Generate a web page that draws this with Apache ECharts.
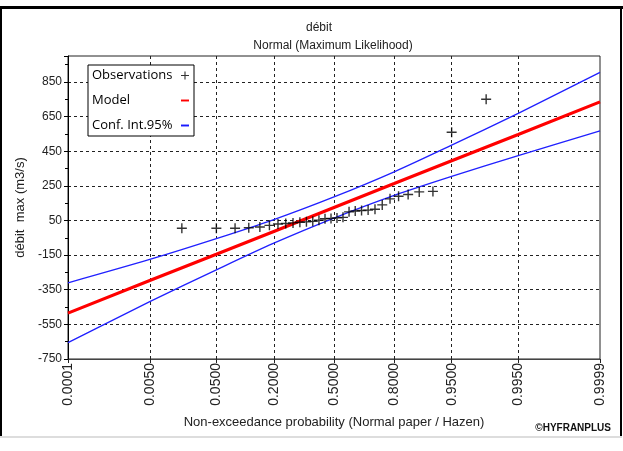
<!DOCTYPE html>
<html>
<head>
<meta charset="utf-8">
<script src="https://cdn.jsdelivr.net/npm/echarts@6/dist/echarts.min.js"></script>
<style>
  html, body { margin: 0; padding: 0; background: #fff; }
  #chart { width: 623px; height: 451px; }
</style>
</head>
<body>
<div id="chart"></div>
<script>
// tick labels of the probability axis (normal paper)
const probTicks = ['0.0001', '0.0050', '0.0500', '0.2000', '0.5000', '0.8000', '0.9500', '0.9950', '0.9999'];

// observations, Hazen plotting positions
const obsProb = [0.0167, 0.0500, 0.0833, 0.1167, 0.1500, 0.1833, 0.2167, 0.2500, 0.2833, 0.3167,
                 0.3500, 0.3833, 0.4167, 0.4500, 0.4833, 0.5167, 0.5500, 0.5833, 0.6167, 0.6500,
                 0.6833, 0.7167, 0.7500, 0.7833, 0.8167, 0.8500, 0.8833, 0.9167, 0.9500, 0.9833];
const obsValues = [5, 5, 5, 8, 12, 22, 30, 33, 36, 40,
                   42, 45, 52, 60, 62, 65, 68, 100, 105, 108,
                   110, 115, 140, 175, 190, 200, 215, 218, 560, 750];

// model and 95% confidence interval, read at the tick probabilities
const curveProb = [0.0001, 0.005, 0.05, 0.2, 0.5, 0.8, 0.95, 0.995, 0.9999];
const modelValues = [-485, -297, -145, -13, 125, 263, 395, 547, 735];
const ciUpper = [-310, -175, -55, 55, 186, 331, 485, 669, 905];
const ciLower = [-655, -419, -235, -81, 64, 195, 305, 425, 568];

// inverse of the standard normal cdf (Acklam)
function normInv(p) {
  const a = [-39.69683028665376, 220.9460984245205, -275.9285104469687, 138.3577518672690, -30.66479806614716, 2.506628277459239];
  const b = [-54.47609879822406, 161.5858368580409, -155.6989798598866, 66.80131188771972, -13.28068155288572];
  const c = [-0.007784894002430293, -0.3223964580411365, -2.400758277161838, -2.549732539343734, 4.374664141464968, 2.938163982698783];
  const d = [0.007784695709041462, 0.3224671290700398, 2.445134137142996, 3.754408661907416];
  const pl = 0.02425;
  let q, r;
  if (p < pl) {
    q = Math.sqrt(-2 * Math.log(p));
    return (((((c[0]*q+c[1])*q+c[2])*q+c[3])*q+c[4])*q+c[5]) / ((((d[0]*q+d[1])*q+d[2])*q+d[3])*q+1);
  }
  if (p <= 1 - pl) {
    q = p - 0.5; r = q * q;
    return (((((a[0]*r+a[1])*r+a[2])*r+a[3])*r+a[4])*r+a[5])*q / (((((b[0]*r+b[1])*r+b[2])*r+b[3])*r+b[4])*r+1);
  }
  q = Math.sqrt(-2 * Math.log(1 - p));
  return -(((((c[0]*q+c[1])*q+c[2])*q+c[3])*q+c[4])*q+c[5]) / ((((d[0]*q+d[1])*q+d[2])*q+d[3])*q+1);
}

const zTicks = probTicks.map(s => normInv(parseFloat(s)));
function tickLabel(v) {
  let best = 0;
  zTicks.forEach((z, i) => { if (Math.abs(z - v) < Math.abs(zTicks[best] - v)) best = i; });
  return probTicks[best];
}

const obsData = obsProb.map((p, i) => [normInv(p), obsValues[i]]);
const modelData = curveProb.map((p, i) => [normInv(p), modelValues[i]]);
const upperData = curveProb.map((p, i) => [normInv(p), ciUpper[i]]);
const lowerData = curveProb.map((p, i) => [normInv(p), ciLower[i]]);

const plusIcon = 'path://M4.3,0h1.4v10h-1.4zM0,4.3h10v1.4h-10z';
const dashIcon = 'path://M0,0h10v2.4h-10z';

const chart = echarts.init(document.getElementById('chart'), null, { renderer: 'canvas' });
chart.setOption({
  animation: false,
  backgroundColor: '#fff',
  title: [
    { text: 'débit', left: 314, top: 17, textAlign: 'center',
      textStyle: { fontFamily: 'Liberation Sans', fontSize: 12, fontWeight: 'normal', color: '#222' } },
    { text: 'Normal (Maximum Likelihood)', left: 328, top: 35, textAlign: 'center',
      textStyle: { fontFamily: 'Liberation Sans', fontSize: 12, fontWeight: 'normal', color: '#222' } }
  ],
  legend: {
    orient: 'vertical',
    left: 88, top: 65,
    align: 'right',
    backgroundColor: '#fff',
    borderColor: '#000', borderWidth: 1, borderRadius: 0,
    padding: [4, 5, 4, 4],
    itemGap: 12,
    itemWidth: 8, itemHeight: 8,
    formatter: name => '{t|' + name + '}',
    textStyle: {
      fontFamily: 'Open Sans', fontSize: 13, color: '#000',
      rich: { t: { width: 84, align: 'left', fontFamily: 'Open Sans', fontSize: 13, lineHeight: 15, color: '#000' } }
    },
    data: [
      { name: 'Observations', icon: plusIcon },
      { name: 'Model', icon: dashIcon },
      { name: 'Conf. Int.95%', icon: dashIcon }
    ]
  },
  grid: { left: 68, right: 23, top: 56, bottom: 92, show: true, borderColor: '#222', borderWidth: 1 },
  xAxis: {
    type: 'value',
    min: zTicks[0], max: zTicks[zTicks.length - 1],
    name: 'Non-exceedance probability (Normal paper / Hazen)',
    nameLocation: 'middle', nameGap: 57,
    nameTextStyle: { fontFamily: 'Liberation Sans', fontSize: 13, color: '#222' },
    axisLine: { onZero: false, lineStyle: { color: '#444', width: 1 } },
    axisTick: { customValues: zTicks, length: 4, lineStyle: { color: '#222' } },
    axisLabel: { customValues: zTicks, rotate: 90, fontFamily: 'Liberation Sans', fontSize: 14,
                 color: '#222', margin: 4, formatter: v => tickLabel(v) },
    splitLine: { show: true, showMinLine: false, showMaxLine: false,
                 lineStyle: { color: '#222', type: [3, 3], width: 1 } }
  },
  yAxis: {
    type: 'value',
    min: -750, max: 1000, interval: 200,
    name: 'débit  max (m3/s)',
    nameLocation: 'middle', nameGap: 36,
    nameTextStyle: { fontFamily: 'Liberation Sans', fontSize: 13, color: '#222' },
    axisLine: { show: true, onZero: false, lineStyle: { color: '#000', width: 1 } },
    axisTick: { show: true, length: 4, lineStyle: { color: '#000' } },
    minorTick: { show: true, splitNumber: 2, length: 3, lineStyle: { color: '#000' } },
    axisLabel: { fontFamily: 'Liberation Sans', fontSize: 12, color: '#222', margin: 6,
                 showMaxLabel: false },
    splitLine: { show: true, showMinLine: false, showMaxLine: false,
                 lineStyle: { color: '#222', type: [3, 3], width: 1 } }
  },
  series: [
    { name: 'Conf. Int.95%', type: 'line', data: upperData, smooth: 0.3, symbol: 'none',
      color: '#1a1aff', lineStyle: { color: '#2020ff', width: 1.3 }, z: 2 },
    { name: 'Conf. Int.95%', type: 'line', data: lowerData, smooth: 0.3, symbol: 'none',
      color: '#1a1aff', lineStyle: { color: '#2020ff', width: 1.3 }, z: 2 },
    { name: 'Model', type: 'line', data: modelData, symbol: 'none',
      color: '#ff0000', lineStyle: { color: '#ff0000', width: 3.2 }, z: 3 },
    { name: 'Observations', type: 'scatter', data: obsData, symbol: plusIcon, symbolSize: 10,
      color: '#000', itemStyle: { color: '#000' }, z: 4 }
  ],
  graphic: [
    { type: 'rect', shape: { x: 0, y: 6, width: 623, height: 3 }, style: { fill: '#000' } },
    { type: 'rect', shape: { x: 0, y: 6, width: 2, height: 430 }, style: { fill: '#000' } },
    { type: 'rect', shape: { x: 620, y: 6, width: 2, height: 430 }, style: { fill: '#000' } },
    { type: 'rect', shape: { x: 0, y: 436, width: 622, height: 2 }, style: { fill: '#ddd' } },
    { type: 'text', right: 12, top: 423,
      style: { text: '©HYFRANPLUS', fontFamily: 'Liberation Sans', fontSize: 10, fontWeight: 'bold', fill: '#111' } }
  ]
});
</script>
</body>
</html>
